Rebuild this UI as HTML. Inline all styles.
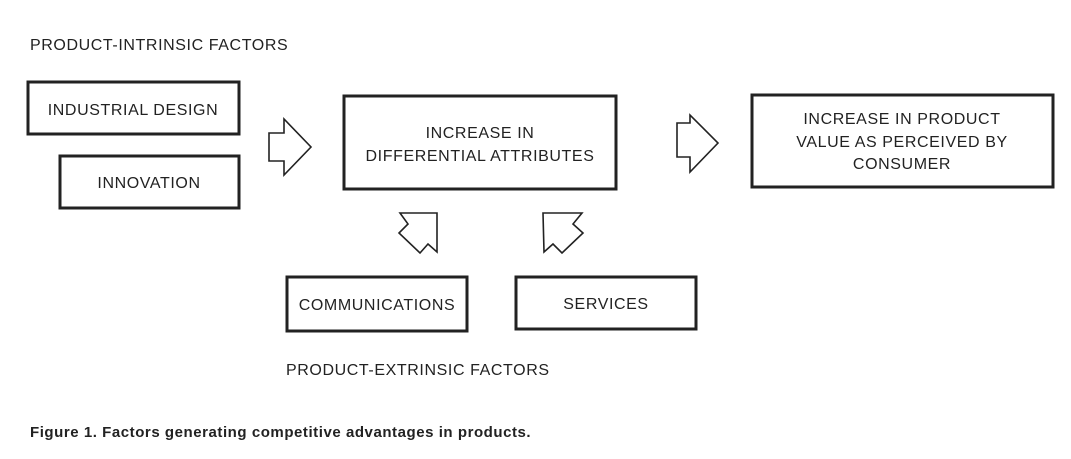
<!DOCTYPE html>
<html><head><style>
body{margin:0;background:#fff;}
svg text{font-family:"Liberation Sans",sans-serif;fill:#222;letter-spacing:0.6px}
</style></head><body>
<svg width="1071" height="454" xmlns="http://www.w3.org/2000/svg">
<rect width="1071" height="454" fill="#fff"/>
<g fill="none" stroke="#222" stroke-width="3">
<rect x="28" y="82" width="211" height="52"/>
<rect x="60" y="156" width="179" height="52"/>
<rect x="344" y="96" width="272" height="93"/>
<rect x="752" y="95" width="301" height="92"/>
<rect x="287" y="277" width="180" height="54"/>
<rect x="516" y="277" width="180" height="52"/>
</g>
<g fill="#fff" stroke="#222" stroke-width="1.6" stroke-linejoin="miter">
<polygon points="269,133 284,133 284,119 311,147 284,175 284,161 269,161"/>
<polygon points="677,123 690,123 690,115 718,143 690,172 690,157 677,157"/>
<polygon points="400,213 437,213 437,252 428,244 420,253 399,233 408,224"/>
<polygon points="543,213 582,213 573,224 583,233 562,253 553,244 544,252"/>
</g>
<g font-size="16">
<text x="30" y="50">PRODUCT-INTRINSIC FACTORS</text>
<text x="133" y="115" text-anchor="middle">INDUSTRIAL DESIGN</text>
<text x="149" y="188" text-anchor="middle">INNOVATION</text>
<text x="480" y="138" text-anchor="middle">INCREASE IN</text>
<text x="480" y="161" text-anchor="middle">DIFFERENTIAL  ATTRIBUTES</text>
<text x="902" y="124" text-anchor="middle">INCREASE IN PRODUCT</text>
<text x="902" y="147" text-anchor="middle">VALUE AS PERCEIVED BY</text>
<text x="902" y="169" text-anchor="middle">CONSUMER</text>
<text x="377" y="310" text-anchor="middle">COMMUNICATIONS</text>
<text x="606" y="309" text-anchor="middle">SERVICES</text>
<text x="286" y="375">PRODUCT-EXTRINSIC FACTORS</text>
</g>
<text x="30" y="437" font-size="15" font-weight="bold" style="letter-spacing:0.55px">Figure 1. Factors generating competitive advantages in products.</text>
</svg>
</body></html>
